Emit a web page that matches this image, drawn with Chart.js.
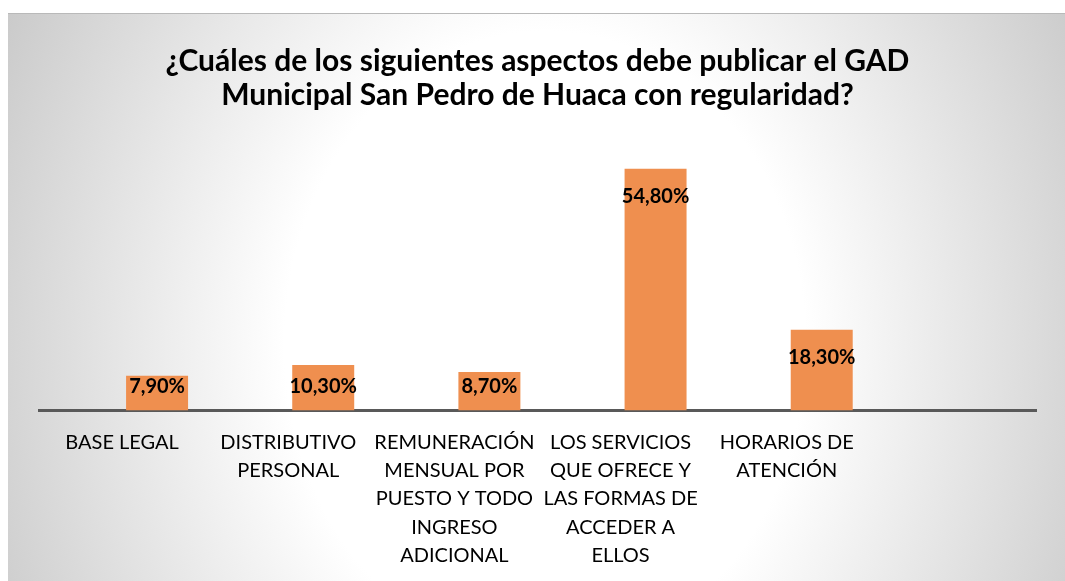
<!DOCTYPE html>
<html>
<head>
<meta charset="utf-8">
<script src="https://cdn.jsdelivr.net/npm/chart.js@4"></script>
<style>
  html, body { margin: 0; padding: 0; background: #ffffff; }
  #wrap {
    position: absolute;
    left: 8px;
    top: 13px;
    width: 1057px;
    height: 568px;
    border-top: 1px solid #b9b9b9;
    box-sizing: border-box;
    background: radial-gradient(ellipse 620px 745px at 537px 330px, #ffffff 0%, #ffffff 42%, #c8c8c8 100%);
  }
  canvas { display: block; }
</style>
</head>
<body>
<div id="wrap"><canvas id="chart" width="1057" height="567"></canvas></div>
<script>
// categories (already split into lines like the original)
const categories = [
  ['BASE LEGAL'],
  ['DISTRIBUTIVO', 'PERSONAL'],
  ['REMUNERACIÓN', 'MENSUAL POR', 'PUESTO Y TODO', 'INGRESO', 'ADICIONAL'],
  ['LOS SERVICIOS', 'QUE OFRECE Y', 'LAS FORMAS DE', 'ACCEDER A', 'ELLOS'],
  ['HORARIOS DE', 'ATENCIÓN'],
  ''
];
// percentages
const percentages = [7.9, 10.3, 8.7, 54.8, 18.3, null];
// empty first series (keeps the bars shifted right like the excel chart)
const emptySeries = [null, null, null, null, null, null];

const titleLines = [
  '¿Cuáles de los siguientes aspectos debe publicar el GAD',
  'Municipal San Pedro de Huaca con regularidad?'
];

const barColor = '#EF8F4F';

// value labels drawn near the top of each bar
const valueLabels = {
  id: 'valueLabels',
  afterDatasetsDraw(chart) {
    const ctx = chart.ctx;
    const meta = chart.getDatasetMeta(1);
    ctx.save();
    ctx.font = 'bold 20px Lato';
    ctx.fillStyle = '#000000';
    ctx.textAlign = 'center';
    ctx.textBaseline = 'middle';
    meta.data.forEach(function(bar, i) {
      const v = percentages[i];
      if (v === null) return;
      const y = Math.min(bar.y + 28, bar.base - 24);
      ctx.fillText(v.toFixed(2).replace('.', ',') + '%', bar.x, y);
    });
    ctx.restore();
  }
};

const ctx = document.getElementById('chart').getContext('2d');
new Chart(ctx, {
  type: 'bar',
  data: {
    labels: categories,
    datasets: [
      {
        label: 'Serie 1',
        data: emptySeries,
        backgroundColor: barColor
      },
      {
        label: 'Serie 2',
        data: percentages,
        backgroundColor: barColor,
        categoryPercentage: 0.842,
        barPercentage: 0.886
      }
    ]
  },
  options: {
    responsive: false,
    animation: false,
    layout: {
      padding: { left: 31, right: 29, top: 0, bottom: 2 }
    },
    plugins: {
      legend: { display: false },
      tooltip: { enabled: false },
      title: {
        display: true,
        text: titleLines,
        color: '#000000',
        font: { family: 'Lato', size: 30, weight: 'bold', lineHeight: 1.13 },
        padding: { top: 30, bottom: 34 }
      }
    },
    scales: {
      x: {
        grid: { display: false, drawTicks: false },
        border: { display: true, color: '#595959', width: 3 },
        afterFit: function(scale) {
          // tick padding counts twice in the fit, take some back
          scale.height -= 8.5;
        },
        ticks: {
          color: '#000000',
          padding: 18,
          maxRotation: 0,
          autoSkip: false,
          font: { family: 'Lato', size: 20, lineHeight: 1.41 }
        }
      },
      y: {
        display: false,
        min: 0,
        max: 60
      }
    }
  },
  plugins: [valueLabels]
});
</script>
</body>
</html>
